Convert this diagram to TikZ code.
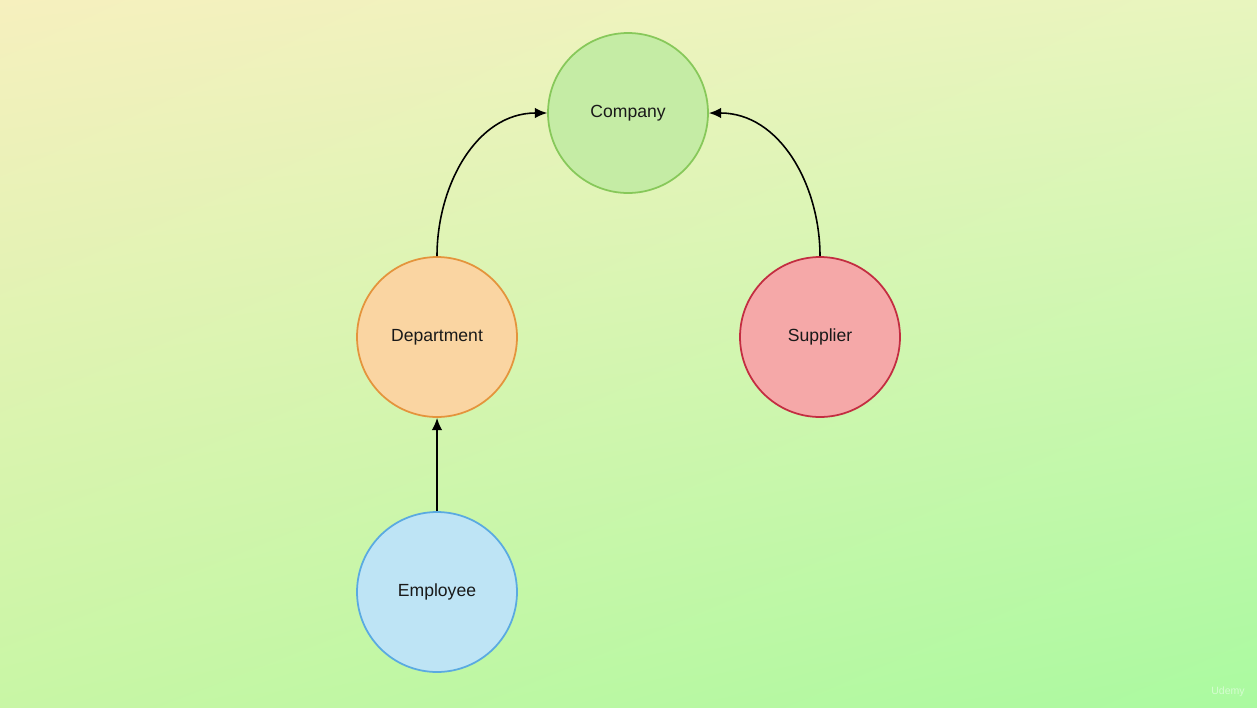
\documentclass[tikz,border=0pt]{standalone}
\usepackage{fontspec}
\setmainfont{Liberation Sans}
\usetikzlibrary{arrows.meta,shadings}

\definecolor{bgtl}{RGB}{246,240,190}
\definecolor{bgtr}{RGB}{232,245,190}
\definecolor{bgbl}{RGB}{200,246,165}
\definecolor{bgbr}{RGB}{170,250,160}
\definecolor{compfill}{RGB}{197,236,165}
\definecolor{compline}{RGB}{135,200,90}
\definecolor{deptfill}{RGB}{250,213,162}
\definecolor{deptline}{RGB}{228,148,60}
\definecolor{suppfill}{RGB}{245,168,168}
\definecolor{suppline}{RGB}{195,45,65}
\definecolor{emplfill}{RGB}{190,228,245}
\definecolor{emplline}{RGB}{90,170,225}

\tikzset{
  entity/.style={circle, minimum size=3.2cm, inner sep=0pt, line width=1pt,
    font=\fontsize{10}{12}\selectfont, text=black!90},
  link/.style={-{Latex[length=7pt,width=6pt]}, line width=0.9pt, black}
}

\begin{document}
\begin{tikzpicture}[x=0.02cm, y=-0.02cm]
\useasboundingbox (0,0) rectangle (1257,707);
\shade[upper left=bgtl, upper right=bgtr, lower left=bgbl, lower right=bgbr]
  (0,0) rectangle (1257,707);

\node[entity, fill=compfill, draw=compline] (company) at (628,113) {Company};
\node[entity, fill=deptfill, draw=deptline] (department) at (437,337) {Department};
\node[entity, fill=suppfill, draw=suppline] (supplier) at (820,337) {Supplier};
\node[entity, fill=emplfill, draw=emplline] (employee) at (437,592) {Employee};

% relations
\draw[link] (employee.north) -- (department.south);
\draw[link] (department.north) to[out=90, in=180] (company.west);
\draw[link] (supplier.north) to[out=90, in=0] (company.east);

% watermark
\node[text=white, opacity=0.5, font=\fontsize{6}{7}\selectfont] (mark) at (1228,692) {Udemy};
\end{tikzpicture}
\end{document}
